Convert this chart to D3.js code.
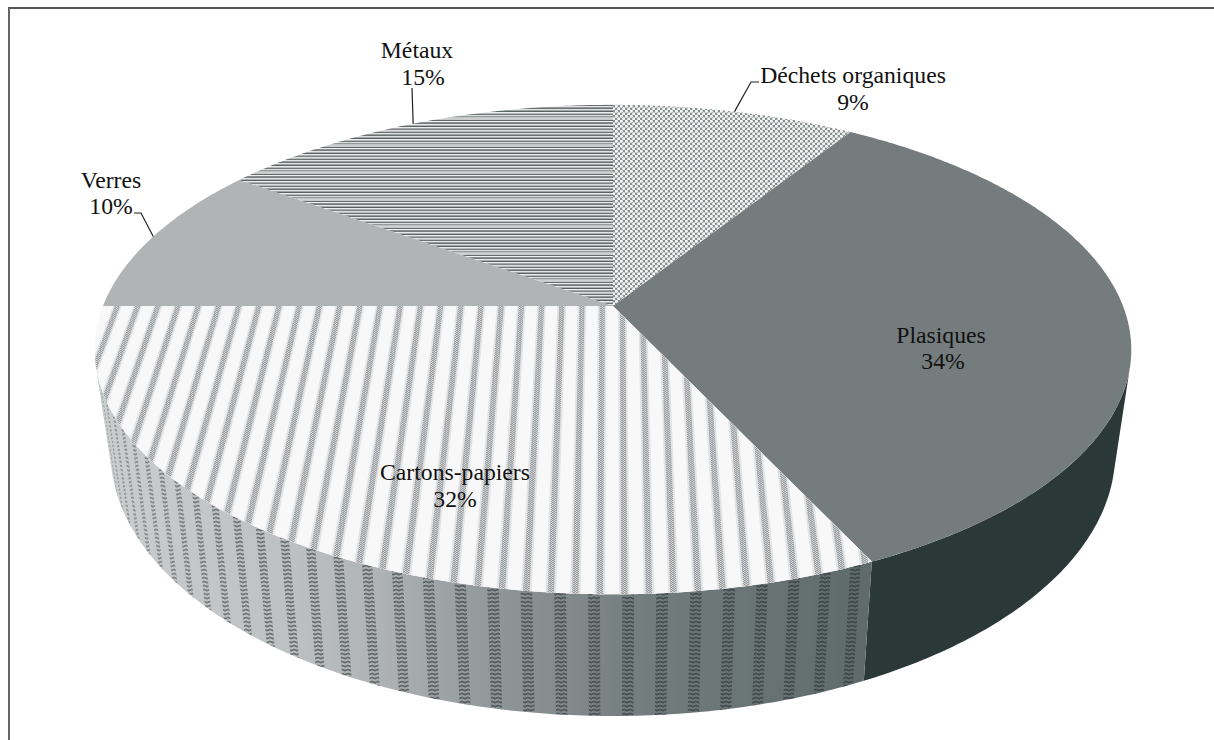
<!DOCTYPE html>
<html>
<head>
<meta charset="utf-8">
<script src="https://cdn.jsdelivr.net/npm/d3@7"></script>
<style>
  html, body { margin: 0; padding: 0; background: #fff; }
  text { font-family: "Liberation Serif", serif; font-size: 23.7px; fill: #111; text-anchor: middle; }
</style>
</head>
<body>
<div id="chart"></div>
<script>
// data
const categories = ["Déchets organiques", "Plasiques", "Cartons-papiers", "Verres", "Métaux"];
const shares = [9, 34, 32, 10, 15];

// constants
const width = 1214;
const height = 740;
const cx = 613;
const cy = 306;
const radius_x = 510;
const radius_y = 237;
const tilt = 0.178;
const wall_height = 100;
const wall_taper = 0.969;
const wall_from = 104 * Math.PI / 180;
const wall_to = 256 * Math.PI / 180;

const top_colors = ["url(#dots)", "#747c7d", "#f8f8f8", "#b1b4b5", "url(#rows)"];
const wall_colors = ["#777", "#2b3839", "url(#wallShade)", "#999", "#999"];

// label layout: [name x, name baseline, value x, value baseline]
const label_pos = [[853, 83, 853, 110], [941, 343, 943, 369], [455, 480, 455, 507], [111, 188, 111, 214], [417, 58, 423, 85]];
// leader elbows from the rim, only for the outside labels
const leaders = { 0: [[751, 82], [759, 82]], 3: [[141, 213], [134, 213]], 4: [[412, 88]] };

const svg = d3.select("#chart").append("svg")
    .attr("width", width)
    .attr("height", height)
    .style("display", "block");

const defs = svg.append("defs");

const soft = defs.append("filter").attr("id", "soft");
soft.append("feGaussianBlur").attr("stdDeviation", 0.4);

// scales: perspective plane -> screen
const x_scale = d3.scaleLinear().domain([-1, 1]).range([cx - radius_x, cx + radius_x]);
const y_scale = d3.scaleLinear().domain([-1, 1]).range([cy + radius_y, cy - radius_y]);
const wall_x = d3.scaleLinear().domain([cx, cx + 100]).range([cx, cx + 100 * wall_taper]);

function project(angle) {
    const u = Math.sin(angle);
    const v = Math.cos(angle);
    const d = 1 + tilt * v;
    return [x_scale(u / d), y_scale(v / d), d];
}
function projectBottom(angle) {
    const p = project(angle);
    return [wall_x(p[0]), p[1] + wall_height / p[2]];
}
function angles(a0, a1) {
    const n = Math.max(2, Math.ceil(Math.abs(a1 - a0) / 0.01));
    return d3.range(n + 1).map(i => a0 + (a1 - a0) * i / n);
}
const line = d3.line();

const arcs = d3.pie().sort(null).value(d => d)(shares);

// top face outline of a slice
function topPath(a) {
    return line([[x_scale(0), y_scale(0)]].concat(angles(a.startAngle, a.endAngle).map(t => project(t).slice(0, 2)))) + "Z";
}
// side wall band between two angles, cut to the part that faces the viewer
function wallPath(a0, a1) {
    const from = Math.max(a0, wall_from);
    const to = Math.min(a1, wall_to);
    if (to <= from) return null;
    const list = angles(from, to);
    return line(list.map(t => project(t).slice(0, 2)).concat(list.slice().reverse().map(projectBottom))) + "Z";
}

// fill patterns
const dots = defs.append("pattern").attr("id", "dots")
    .attr("patternUnits", "userSpaceOnUse").attr("width", 5).attr("height", 5);
dots.append("rect").attr("width", 5).attr("height", 5).attr("fill", "#8a8f8f");
[[1.25, 1.25], [3.75, 3.75]].forEach(p => {
    dots.append("circle").attr("cx", p[0]).attr("cy", p[1]).attr("r", 1.6).attr("fill", "#f6f7f7");
});

// uneven rows give the moire look of the metal slice
const row_greys = ["#6a7171", "#e0e2e2", "#a0a5a5", "#5c6363", "#eaebeb", "#b8bbbb", "#707777", "#dddfdf", "#949a9a",
    "#c0c3c3", "#cfd1d1", "#c8caca", "#636a6a", "#eeefef", "#888e90", "#767c7c", "#e4e6e6", "#adb1b1",
    "#5a6161", "#ecedee", "#a4a8a8", "#808686", "#dadcdc", "#babdbd", "#6c7373", "#e2e3e3", "#989ea0"];
const rows = defs.append("pattern").attr("id", "rows")
    .attr("patternUnits", "userSpaceOnUse").attr("width", 10).attr("height", row_greys.length);
row_greys.forEach((c, i) => {
    rows.append("rect").attr("y", i).attr("width", 10).attr("height", 1).attr("fill", c);
});

const band = defs.append("pattern").attr("id", "band")
    .attr("patternUnits", "userSpaceOnUse").attr("width", 3).attr("height", 2);
band.append("rect").attr("width", 3).attr("height", 2).attr("fill", "#d0d2d3");
band.append("path").attr("d", "M0 .5H1.8M1.5 1.5H3").attr("stroke", "#94999b").attr("stroke-width", 0.9);

const zig = defs.append("pattern").attr("id", "zig")
    .attr("patternUnits", "userSpaceOnUse").attr("width", 6).attr("height", 4);
zig.append("path").attr("d", "M0 1L3 3L6 1").attr("fill", "none")
    .attr("stroke", "#1c2425").attr("stroke-opacity", 0.55).attr("stroke-width", 1.1);
zig.append("path").attr("d", "M0 3L3 1L6 3").attr("fill", "none")
    .attr("stroke", "#1c2425").attr("stroke-opacity", 0.3).attr("stroke-width", 0.9);

// wall lighting of the paper slice
const shade = defs.append("linearGradient").attr("id", "wallShade")
    .attr("gradientUnits", "userSpaceOnUse")
    .attr("x1", 96).attr("x2", 870).attr("y1", 0).attr("y2", 0);
[[0, "#cbcece"], [0.26, "#bcc0c1"], [0.37, "#aeb2b3"], [0.52, "#8f9697"], [0.71, "#737c7d"], [1, "#5f6a6a"]].forEach(s => {
    shade.append("stop").attr("offset", s[0]).attr("stop-color", s[1]);
});

const pie_g = svg.append("g").attr("filter", "url(#soft)");

// walls first, the top face covers the far half
pie_g.selectAll(".wall")
    .data(arcs.filter(a => wallPath(a.startAngle, a.endAngle))).enter()
    .append("path")
    .attr("class", "wall")
    .attr("d", a => wallPath(a.startAngle, a.endAngle))
    .attr("fill", a => wall_colors[a.index]);

// stripes on the paper wall, fading where they bunch up on the left
const paper = arcs[2];
const wall_step = 3.15 * Math.PI / 180;
const wall_phase = 178.6 * Math.PI / 180;
const wall_half = 0.55 * Math.PI / 180;
const wall_stripes = d3.range(-8, 30).map(k => wall_phase + k * wall_step)
    .filter(t => t > paper.startAngle + wall_half && t + wall_half < wall_to);
const stripe_fade = d3.scaleLinear().domain([215 * Math.PI / 180, wall_to]).range([1, 0.55]).clamp(true);
pie_g.selectAll(".wall-stripe")
    .data(wall_stripes).enter()
    .append("path")
    .attr("class", "wall-stripe")
    .attr("d", t => wallPath(t - wall_half, t + wall_half))
    .attr("opacity", t => stripe_fade(t))
    .attr("fill", "url(#zig)");

// top face
pie_g.selectAll(".slice")
    .data(arcs).enter()
    .append("path")
    .attr("class", "slice")
    .attr("d", topPath)
    .attr("fill", (a, i) => top_colors[i]);

// stripes on the paper slice, straight lines in the plane of the pie
defs.append("clipPath").attr("id", "paperClip")
    .append("path").attr("d", topPath(paper));
function planePoint(u, v) {
    const d = 1 + tilt * v;
    return [x_scale(u / d), y_scale(v / d)];
}
function stripePath(u, half) {
    return line([planePoint(u - half, 0.02), planePoint(u + half, 0.02),
                 planePoint(u + half, -1.02), planePoint(u - half, -1.02)]) + "Z";
}
const top_step = 0.0396;
const top_phase = -0.2588;
const stripe_list = d3.range(-20, 22).map(k => top_phase + k * top_step);
const stripe_g = pie_g.append("g").attr("clip-path", "url(#paperClip)");
stripe_g.selectAll(".paper-edge")
    .data(stripe_list).enter()
    .append("path")
    .attr("class", "paper-edge")
    .attr("d", u => stripePath(u, 0.0085))
    .attr("fill", "#e2e3e4");
stripe_g.selectAll(".paper-stripe")
    .data(stripe_list).enter()
    .append("path")
    .attr("class", "paper-stripe")
    .attr("d", u => stripePath(u, 0.0052))
    .attr("fill", "url(#band)");

// leader lines start at the middle of the slice rim
const lead_g = svg.append("g");
Object.keys(leaders).forEach(i => {
    const a = arcs[i];
    const start = project((a.startAngle + a.endAngle) / 2).slice(0, 2);
    lead_g.append("path")
        .attr("d", line([start].concat(leaders[i])))
        .attr("fill", "none")
        .attr("stroke", "#222")
        .attr("stroke-width", 1.2);
});

// labels
categories.forEach((name, i) => {
    const p = label_pos[i];
    svg.append("text").attr("x", p[0]).attr("y", p[1]).text(name);
    svg.append("text").attr("x", p[2]).attr("y", p[3]).text(shares[i] + "%");
});

// frame: only the top and left edges show
svg.append("line")
    .attr("x1", 8).attr("x2", width).attr("y1", 8).attr("y2", 8)
    .attr("stroke", "#1c1c1c").attr("stroke-width", 1.5);
svg.append("line")
    .attr("x1", 9).attr("x2", 9).attr("y1", 8).attr("y2", height)
    .attr("stroke", "#666").attr("stroke-width", 2);
</script>
</body>
</html>
